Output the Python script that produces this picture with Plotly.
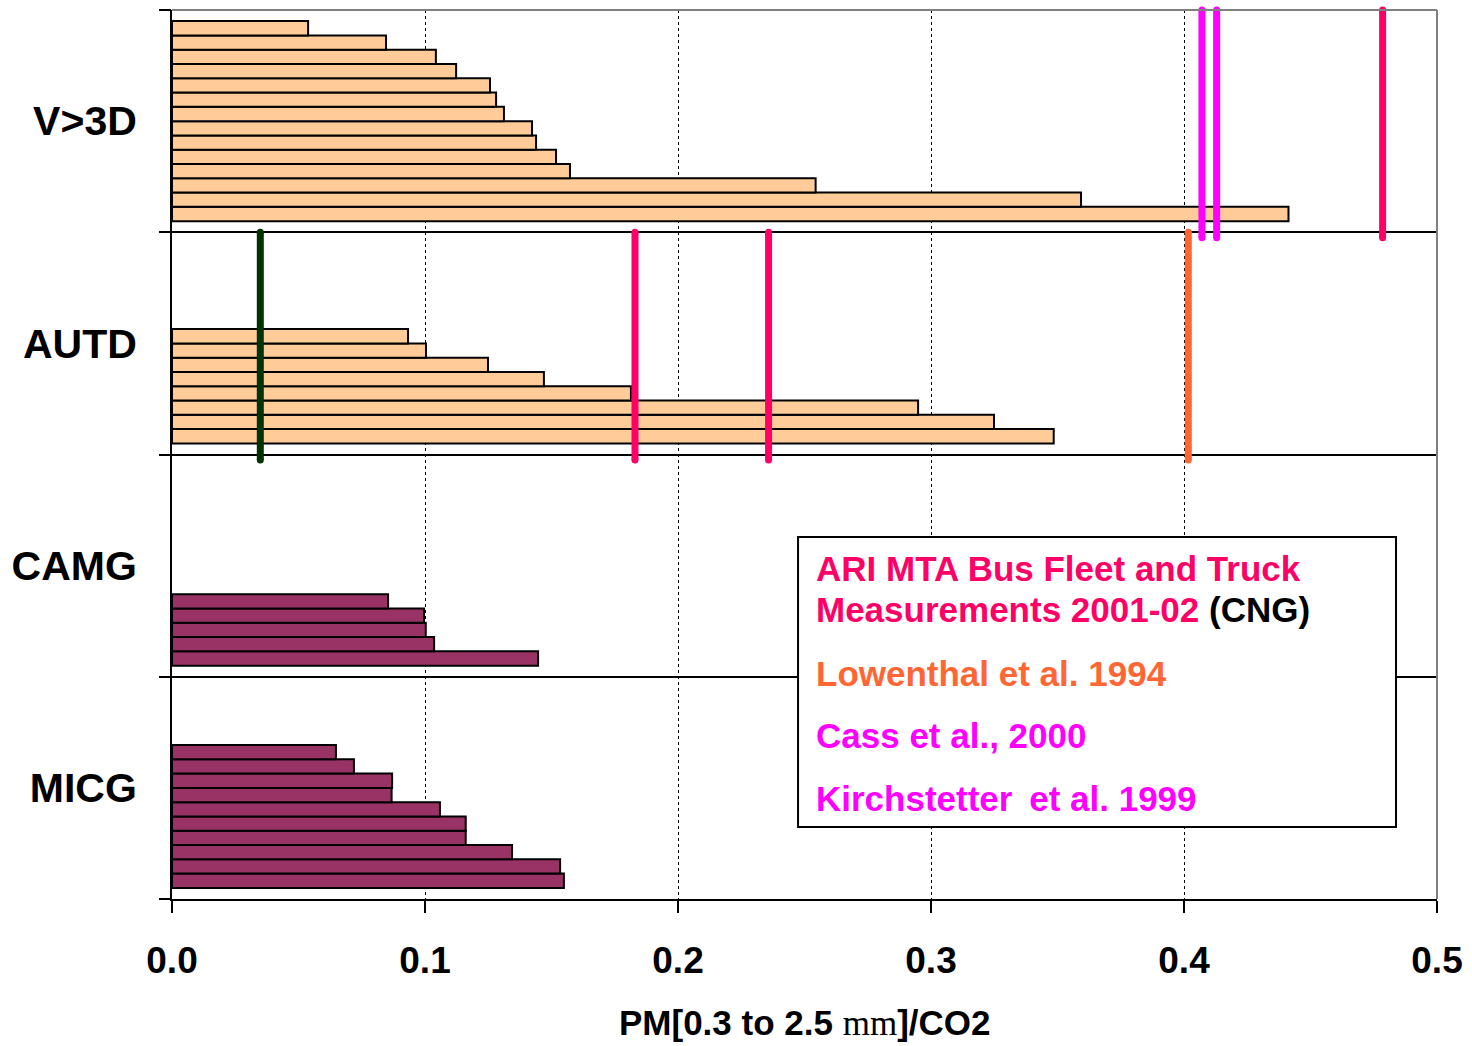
import plotly.graph_objects as go

# Vehicle classes, bottom to top on the y axis
categories = ["MICG", "CAMG", "AUTD", "V>3D"]

# PM[0.3-2.5]/CO2 ratios per vehicle class, listed top to bottom as drawn
v3d_values = [0.0538, 0.0846, 0.1043, 0.1123, 0.1257, 0.1281, 0.1312,
              0.1423, 0.1439, 0.1518, 0.1573, 0.2544, 0.3593, 0.4413]
autd_values = [0.0933, 0.1004, 0.1249, 0.1470, 0.1814, 0.2949, 0.3249, 0.3485]
camg_values = [0.0854, 0.0996, 0.1003, 0.1036, 0.1447]
micg_values = [0.0648, 0.0719, 0.0870, 0.0868, 0.1059, 0.1161, 0.1161,
               0.1344, 0.1534, 0.1549]

# Literature reference values (vertical markers) per vehicle class
v3d_refs = [0.4071, 0.4129, 0.4785]
v3d_ref_colors = ["#FF00FF", "#FF00FF", "#FF0066"]
autd_refs = [0.0349, 0.1830, 0.2358, 0.4017]
autd_ref_colors = ["#003300", "#FF0066", "#FF0066", "#FF6633"]

x_ticks = [0.0, 0.1, 0.2, 0.3, 0.4, 0.5]
x_tick_labels = ["0.0", "0.1", "0.2", "0.3", "0.4", "0.5"]

PEACH = "#FFCC99"
MAROON = "#993366"
FONT = "Arial, Liberation Sans, sans-serif"
REF_OVERHANG = 0.025  # reference lines run slightly past the lower band edge

series_by_cat = {
    "V>3D": (v3d_values, PEACH),
    "AUTD": (autd_values, PEACH),
    "CAMG": (camg_values, MAROON),
    "MICG": (micg_values, MAROON),
}

n_slots = max(len(v) for v, _ in series_by_cat.values())

fig = go.Figure()

# One bar trace per slot; slot 0 is the bottom bar of each group (largest value)
for k in range(n_slots):
    xs, ys, cols = [], [], []
    for cat in categories:
        vals, col = series_by_cat[cat]
        bottom_up = list(reversed(vals))
        xs.append(bottom_up[k] if k < len(bottom_up) else None)
        ys.append(cat)
        cols.append(col)
    fig.add_trace(go.Bar(
        x=xs, y=ys, orientation="h",
        marker=dict(color=cols, line=dict(color="black", width=2)),
        showlegend=False, hoverinfo="x+y",
    ))

# Reference lines spanning their vehicle-class band
for cat, refs, colors in [("V>3D", v3d_refs, v3d_ref_colors),
                          ("AUTD", autd_refs, autd_ref_colors)]:
    idx = categories.index(cat)
    for xv, col in zip(refs, colors):
        fig.add_trace(go.Scatter(
            x=[xv, xv], y=[idx + 0.5, idx - 0.5 - REF_OVERHANG], yaxis="y2",
            mode="lines+markers",
            line=dict(color=col, width=7),
            marker=dict(color=col, size=7, line=dict(width=0)),
            showlegend=False, hoverinfo="x", cliponaxis=False,
        ))

fig.update_layout(
    width=1472, height=1046,
    margin=dict(l=172, r=35, t=10, b=147),
    paper_bgcolor="white", plot_bgcolor="white",
    barmode="group", bargap=0.1, bargroupgap=0,
    font=dict(family=FONT, color="black"),
    xaxis=dict(
        range=[0, 0.5], tickvals=x_ticks, ticktext=x_tick_labels,
        showgrid=True, gridcolor="black", gridwidth=1, griddash="dot",
        zeroline=False, showline=True, linecolor="black", linewidth=2,
        ticks="outside", ticklen=12, tickwidth=2, tickcolor="black",
        ticklabelstandoff=16,
        tickfont=dict(family=FONT, size=37, weight="bold", color="black"),
    ),
    yaxis=dict(
        type="category", categoryorder="array", categoryarray=categories,
        range=[-0.5, 3.5], showgrid=False, zeroline=False,
        showline=True, linecolor="black", linewidth=2,
        ticks="", ticklabelstandoff=25,
        tickfont=dict(family=FONT, size=41, weight="bold", color="black"),
    ),
    yaxis2=dict(
        overlaying="y", side="left", range=[-0.5, 3.5],
        tickvals=[-0.5, 0.5, 1.5, 2.5, 3.5], showticklabels=False,
        ticks="outside", ticklen=12, tickwidth=2, tickcolor="black",
        showgrid=True, gridcolor="black", gridwidth=1.6,
        zeroline=False, showline=False,
    ),
)

# Top and right frame in grey
fig.add_shape(type="line", xref="paper", yref="paper", x0=0, x1=1, y0=1, y1=1,
              line=dict(color="#808080", width=2), layer="above")
fig.add_shape(type="line", xref="paper", yref="paper", x0=1, x1=1, y0=0, y1=1,
              line=dict(color="#808080", width=2), layer="above")

# Key box
fig.add_shape(type="rect", xref="paper", yref="paper",
              x0=0.4949, x1=0.9676, y0=0.081, y1=0.4072,
              fillcolor="white", line=dict(color="black", width=2), layer="above")

key_lines = [
    ("<span style='color:#FF0066'>ARI MTA Bus Fleet and Truck</span>", 0.3723),
    ("<span style='color:#FF0066'>Measurements 2001-02</span> (CNG)", 0.3251),
    ("<span style='color:#FF6633'>Lowenthal et al. 1994</span>", 0.2531),
    ("<span style='color:#FF00FF'>Cass et al., 2000</span>", 0.1834),
    ("<span style='color:#FF00FF'>Kirchstetter\u2009 et al. 1999</span>", 0.1136),
]
for txt, yp in key_lines:
    fig.add_annotation(
        text=txt, xref="paper", yref="paper", x=0.5075, y=yp,
        xanchor="left", yanchor="middle", showarrow=False,
        font=dict(family=FONT, size=35, weight="bold", color="black"),
    )

# X axis title (micro sign renders as serif "mm")
fig.add_annotation(
    text="PM[0.3 to 2.5 <span style='font-family:Liberation Serif, Times New Roman, serif;"
         "font-weight:normal'>mm</span>]/CO2",
    xref="paper", yref="paper", x=0.5, y=-0.1395,
    xanchor="center", yanchor="middle", showarrow=False, borderpad=0,
    font=dict(family=FONT, size=35, weight="bold", color="black"),
)

fig.write_html("out.html")
